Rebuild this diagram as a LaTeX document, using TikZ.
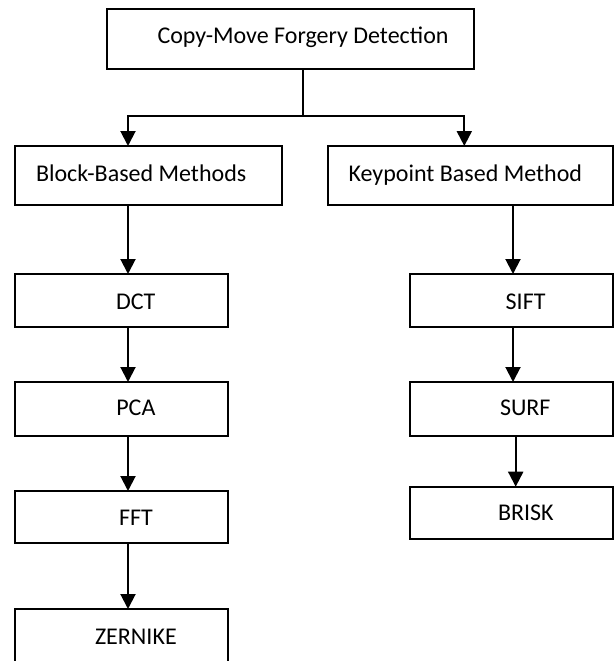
\documentclass[tikz,border=0pt]{standalone}
\usepackage{fontspec}
\setmainfont{Carlito}
\usetikzlibrary{arrows.meta}
\begin{document}
\begin{tikzpicture}[x=1pt,y=-1pt,
  box/.style={draw=black,line width=2pt,rectangle,inner sep=0pt,outer sep=0pt},
  lbl/.style={anchor=base west,inner sep=0pt,outer sep=0pt,font=\fontsize{24}{28}\selectfont},
  arr/.style={draw=black,line width=2pt,-{Triangle[length=15pt,width=15pt]}},
  ln/.style={draw=black,line width=2pt}]
\useasboundingbox (0,0) rectangle (614,661);
\clip (0,0) rectangle (614,661);
% boxes
\node[box,minimum width=367.3pt,minimum height=60pt] (top) at (290.35,39.3) {};
\node[box,minimum width=266.7pt,minimum height=59pt] (block) at (148.35,175.5) {};
\node[box,minimum width=284.7pt,minimum height=59pt] (key) at (470.65,175.5) {};
\node[box,minimum width=213pt,minimum height=53pt] (dct) at (121.5,300.5) {};
\node[box,minimum width=213pt,minimum height=54pt] (pca) at (121.5,409) {};
\node[box,minimum width=213pt,minimum height=52pt] (fft) at (121.5,517) {};
\node[box,minimum width=213pt,minimum height=58pt] (zer) at (121.5,638) {};
\node[box,minimum width=203.4pt,minimum height=53pt] (sift) at (511.3,300.5) {};
\node[box,minimum width=203.4pt,minimum height=54pt] (surf) at (511.3,409) {};
\node[box,minimum width=203.4pt,minimum height=52.3pt] (brisk) at (511.3,512.85) {};
% labels
\node[lbl] (ttop) at (157.5,43.3) {Copy-Move Forgery Detection};
\node[lbl] (tblock) at (36,181) {Block-Based Methods};
\node[lbl] (tkey) at (348.6,181) {Keypoint Based Method};
\node[lbl] (tdct) at (116,309) {DCT};
\node[lbl] (tpca) at (116.3,415) {PCA};
\node[lbl] (tfft) at (119,525) {FFT};
\node[lbl] (tzer) at (95,644) {ZERNIKE};
\node[lbl] (tsift) at (505.7,309.3) {SIFT};
\node[lbl] (tsurf) at (500,415) {SURF};
\node[lbl] (tbrisk) at (498,520.7) {BRISK};
% connector coordinates
\coordinate (split) at (303.3,116);
\coordinate (xl) at (128,0);
\coordinate (xr) at (464.3,0);
\coordinate (xk) at (513,0);
\coordinate (xk2) at (515.7,0);
% connectors
\draw[ln] (split |- top.south) -- (split);
\draw[arr] (split) -| (xl |- block.north);
\draw[arr] (split) -| (xr |- key.north);
\draw[arr] (xl |- block.south) -- (xl |- dct.north);
\draw[arr] (xl |- dct.south) -- (xl |- pca.north);
\draw[arr] (xl |- pca.south) -- (xl |- fft.north);
\draw[arr] (xl |- fft.south) -- (xl |- zer.north);
\draw[arr] (xk |- key.south) -- (xk |- sift.north);
\draw[arr] (xk |- sift.south) -- (xk |- surf.north);
\draw[arr] (xk2 |- surf.south) -- (xk2 |- brisk.north);
\end{tikzpicture}
\end{document}
